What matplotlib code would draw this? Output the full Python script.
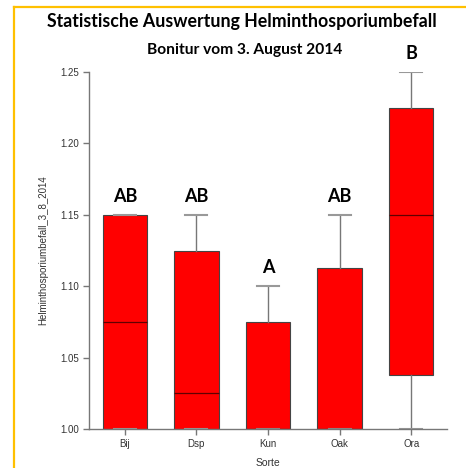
import matplotlib
matplotlib.use("Agg")
import matplotlib.pyplot as plt
from matplotlib.lines import Line2D

sorten = ["Bij", "Dsp", "Kun", "Oak", "Ora"]
q1 = [1.00, 1.00, 1.00, 1.00, 1.0375]
median = [1.075, 1.025, 1.00, 1.00, 1.15]
q3 = [1.15, 1.125, 1.075, 1.1125, 1.225]
whislo = [1.00, 1.00, 1.00, 1.00, 1.00]
whishi = [1.15, 1.15, 1.10, 1.15, 1.25]
letters = ["AB", "AB", "A", "AB", "B"]

fig = plt.figure(figsize=(4.66, 4.68), dpi=100)
ax = fig.add_axes([89 / 466, 1 - 429 / 468, (447 - 89) / 466, (429 - 72) / 468])

stats = []
for i in range(len(sorten)):
    stats.append({"label": sorten[i], "q1": q1[i], "med": median[i], "q3": q3[i],
                  "whislo": whislo[i], "whishi": whishi[i], "fliers": []})

ax.bxp(stats, positions=range(len(sorten)), widths=0.62, capwidths=0.31,
       patch_artist=True, showfliers=False,
       boxprops=dict(facecolor="#ff0000", edgecolor="#444444", linewidth=0.8),
       medianprops=dict(color="#600000", linewidth=0.9),
       whiskerprops=dict(color="#777777", linewidth=1.0),
       capprops=dict(color="#999999", linewidth=1.5))

for i in range(len(sorten)):
    ax.annotate(letters[i], (i, whishi[i]), xytext=(0, 7), textcoords="offset points",
                ha="center", va="bottom", fontsize=13, fontweight="bold", family="Lato")

ax.set_xlim(-0.5, 4.5)
ax.set_ylim(1.0, 1.25)
ax.set_yticks([1.00, 1.05, 1.10, 1.15, 1.20, 1.25])
ax.set_yticklabels(["1.00", "1.05", "1.10", "1.15", "1.20", "1.25"])
ax.set_xticks(range(len(sorten)))
ax.set_xticklabels(sorten)
for s in ["top", "right"]:
    ax.spines[s].set_visible(False)
for s in ["left", "bottom"]:
    ax.spines[s].set_color("#777777")
    ax.spines[s].set_linewidth(1.0)
ax.tick_params(colors="#777777", labelcolor="#333333", labelsize=7, length=4, width=1.0)
for lab in ax.get_xticklabels() + ax.get_yticklabels():
    lab.set_family("Liberation Sans")
ax.set_ylabel("Helminthosporiumbefall_3_8_2014", fontsize=7, family="Liberation Sans",
              color="#333333", labelpad=8)
ax.set_xlabel("Sorte", fontsize=7.5, family="Liberation Sans", color="#333333", labelpad=6)

fig.text(242 / 466, 1 - 22 / 468, "Statistische Auswertung Helminthosporiumbefall",
         ha="center", va="center", fontsize=12.8, fontweight="bold", family="Lato")
fig.text(245 / 466, 1 - 50 / 468, "Bonitur vom 3. August 2014",
         ha="center", va="center", fontsize=11.2, fontweight="bold", family="Lato")

# gelber Rahmen oben und links
fig.add_artist(Line2D([14 / 466, 1.0], [1 - 7 / 468, 1 - 7 / 468], color="#ffc000", linewidth=1.6))
fig.add_artist(Line2D([14 / 466, 14 / 466], [0.0, 1 - 7 / 468], color="#ffc000", linewidth=1.6))

fig.savefig("out.png", dpi=100)
